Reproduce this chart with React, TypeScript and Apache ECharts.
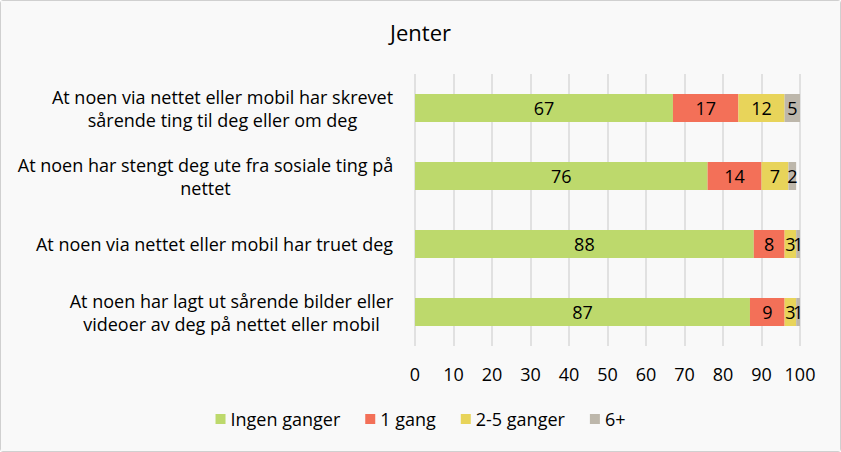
import React, { useEffect, useRef } from "react";
import * as echarts from "echarts";

const categories = [
  "At noen via nettet eller mobil har skrevet\nsårende ting til deg eller om deg",
  "At noen har stengt deg ute fra sosiale ting på\nnettet",
  "At noen via nettet eller mobil har truet deg",
  "At noen har lagt ut sårende bilder eller\nvideoer av deg på nettet eller mobil",
];
const ingenGanger = [67, 76, 88, 87];
const enGang = [17, 14, 8, 9];
const toFemGanger = [12, 7, 3, 3];
const seksPluss = [5, 2, 1, 1];
const seriesNames = ["Ingen ganger", "1 gang", "2-5 ganger", "6+"];
const xTicks = [0, 10, 20, 30, 40, 50, 60, 70, 80, 90, 100];
const colors = ["#bdd96c", "#f37058", "#e8d45a", "#bdb7ab"];

const FAMILY = "Open Sans";
const FONT = `'${FAMILY}', 'DejaVu Sans', sans-serif`;
const FS = 18;

export default function App() {
  const ref = useRef<HTMLDivElement>(null);
  useEffect(() => {
    document.body.style.margin = "0";
    const ctx = document.createElement("canvas").getContext("2d")!;
    ctx.font = `${FS}px '${FAMILY}'`;
    const rich: Record<string, any> = {};
    categories.forEach((c, i) => {
      const w = Math.max(...c.split("\n").map((l) => ctx.measureText(l).width));
      rich[`c${i}`] = {
        width: Math.ceil(w) + 1,
        align: "center",
        fontFamily: FONT,
        fontSize: FS,
        lineHeight: 23,
        color: "#000",
      };
    });
    const chart = echarts.init(ref.current!, undefined, { renderer: "svg" });
    const data = [ingenGanger, enGang, toFemGanger, seksPluss];
    chart.setOption({
      animation: false,
      backgroundColor: "#f9f9f9",
      textStyle: { fontFamily: FONT },
      title: {
        text: "Jenter",
        left: "center",
        top: 15,
        textStyle: { fontFamily: FONT, fontSize: 22, fontWeight: "normal", color: "#000" },
      },
      legend: {
        top: 404,
        left: "center",
        itemWidth: 10,
        itemHeight: 10,
        itemGap: 25,
        icon: "rect",
        textStyle: { fontFamily: FONT, fontSize: FS, color: "#000" },
        data: seriesNames,
      },
      grid: { left: 414, right: 40, top: 73, bottom: 105, containLabel: false },
      xAxis: {
        type: "value",
        min: xTicks[0],
        max: xTicks[xTicks.length - 1],
        interval: xTicks[1] - xTicks[0],
        axisLine: { show: false },
        axisTick: { show: false },
        splitLine: { show: true, lineStyle: { color: "#d9d9d9", width: 1.5 } },
        axisLabel: { fontFamily: FONT, fontSize: FS, color: "#000", margin: 19 },
      },
      yAxis: {
        type: "category",
        inverse: true,
        data: categories,
        axisLine: { show: false },
        axisTick: { show: false },
        axisLabel: {
          margin: 21,
          align: "right",
          formatter: (v: string, idx: number) =>
            v
              .split("\n")
              .map((l) => `{c${idx}|${l}}`)
              .join("\n"),
          rich,
        },
      },
      series: seriesNames.map((name, i) => ({
        name,
        type: "bar",
        stack: "total",
        barWidth: 28,
        itemStyle: { color: colors[i] },
        label: {
          show: true,
          position: "inside",
          color: "#000",
          fontFamily: FONT,
          fontSize: FS,
        },
        data: data[i],
      })),
    });
    return () => chart.dispose();
  }, []);
  return (
    <div
      ref={ref}
      style={{ width: 841, height: 452, boxSizing: "border-box", border: "1px solid #d0d0d0", borderRadius: 3 }}
    />
  );
}
